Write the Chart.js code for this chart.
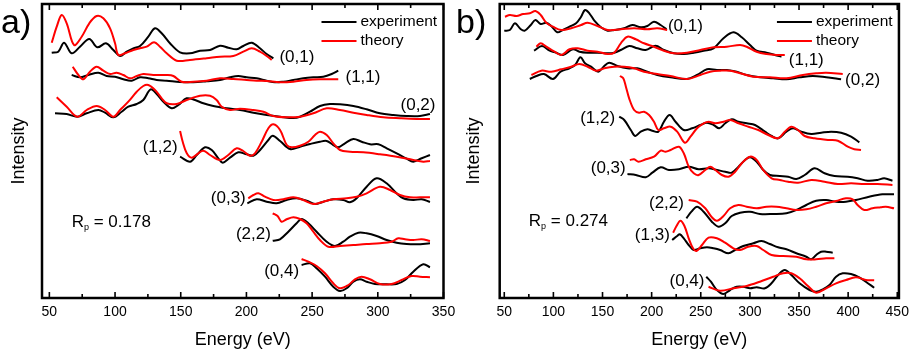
<!DOCTYPE html>
<html>
<head>
<meta charset="utf-8">
<script src="https://cdn.jsdelivr.net/npm/chart.js@4.4.1/dist/chart.umd.min.js"></script>
<style>
  html, body { margin: 0; padding: 0; background: #fff; }
  #wrap { position: relative; width: 915px; height: 352px; overflow: hidden; }
  #chartA { position: absolute; left: 0; top: 0; }
  #chartB { position: absolute; left: 455px; top: 0; }
</style>
</head>
<body>
<div id="wrap">
  <canvas id="chartA" width="480" height="352"></canvas>
  <canvas id="chartB" width="460" height="352"></canvas>
</div>
<script>
// tick labels
const energyTicksA = [50, 100, 150, 200, 250, 300, 350];
const energyTicksB = [50, 100, 150, 200, 250, 300, 350, 400, 450];

// panel a) curves, [energy eV, intensity (offset, arb. units)]
const a01Exp = [[51.8,245.3],[56.8,246.3],[61.2,255.3],[67,244.7],[73.3,251.3],[80.4,259],[86.5,250.7],[93.1,254.7],[98.7,248],[103.8,242],[108.9,246.3],[113.9,249.7],[119,252],[125.3,261.3],[130.4,269.7],[135.5,264.7],[141.8,254.7],[149.4,245.7],[157,244.7],[164.7,247.3],[172.3,248],[179.9,252.3],[186.2,250.3],[192.6,248.7],[197.6,252],[204,255.3],[210.3,249.7],[215.4,244],[220.5,239.7]];
const a01Th = [[51.8,255.3],[55.6,271.3],[59.4,283],[63.2,274.7],[68.8,253],[74.6,261.3],[80.4,274.7],[86,282],[91.1,279.7],[96.2,269.7],[100,254.7],[102.5,243],[107.6,244.7],[113.9,248],[119,249.7],[124.1,251.3],[129.7,255.7],[134.2,251.3],[139.3,244.7],[146.9,237.3],[157,238],[169.7,239.7],[179.9,241.3],[190,242],[197.6,246.3],[204,249.7],[210.3,246.3],[215.4,242],[219.2,238]];
const a11Exp = [[67,223],[73.3,220.7],[79.7,223],[87.3,225.3],[93.6,222],[100,221.3],[106.3,218.7],[112.7,217.3],[119,220.7],[125.3,219.7],[131.7,218],[139.3,217.3],[149.4,216],[159.6,215.7],[169.7,216.7],[179.9,218],[187.5,220.7],[193.8,222],[200.2,220.7],[207.8,219.7],[215.4,217.3],[221.7,215.7],[228.1,216.3],[235.7,218],[243.3,219.7],[250.9,220.7],[258.5,221.3],[264.9,224],[269.9,227.3]];
const a11Th = [[67.8,231.3],[72.1,223],[75.9,218.7],[80.9,226.3],[86,231.3],[91.1,227.3],[96.2,224],[101.2,225.3],[106.3,223],[111.4,219.7],[116.5,222],[121.5,224],[129.1,223],[139.3,223],[144.4,222],[150.7,216.3],[159.6,216.3],[169.7,217.3],[179.9,219.7],[190,219],[200.2,218],[207.8,217.3],[215.4,217],[225.5,215.7],[235.7,216.3],[245.8,218],[256,218.7],[269.9,218.7]];
const a02Exp = [[54.3,184.7],[63.2,184],[71.3,181.3],[78.4,184.7],[87.3,188],[92.4,185.3],[98.7,180.7],[105,186.3],[110.1,191.3],[116.5,194],[121.5,198],[127.1,208.7],[131.7,204],[136.8,196.3],[143.1,189.7],[148.2,193],[154.5,199.7],[160.9,198],[167.2,194.7],[174.8,192],[185,189.7],[195.1,188],[205.3,185.3],[215.4,183],[225.5,181.3],[235.7,180],[240.8,181.3],[248.4,186.3],[256,192],[263.6,194],[271.2,193.7],[281.4,192],[291.5,188.7],[301.6,184.7],[311.8,183],[321.9,182],[332.1,182],[339.7,184]];
const a02Th = [[55.6,200.7],[63.2,191.3],[71.3,181.3],[78.4,188],[86,192],[92.4,188],[98.7,181.3],[103.8,188],[110.1,196.3],[116.5,206.3],[121.5,212],[125.3,213],[130.4,208],[135.5,199.7],[139.3,194.7],[146.9,194],[154.5,198],[164.7,202.3],[172.3,202.3],[177.3,198],[181.2,191.3],[187.5,188],[195.1,189.3],[205.3,188],[212.9,186.3],[220.5,182],[230.6,180.7],[240.8,181.3],[250.9,184.7],[261.1,189.7],[271.2,188],[281.4,185.3],[291.5,183],[304.2,180.7],[316.9,179.7],[329.6,179],[339.7,179]];
const a12Exp = [[149.5,141.3],[157.1,136.3],[162.2,143],[168.5,150.7],[173.6,148],[178.6,139.7],[182,135.3],[187.5,140.3],[193.8,145.7],[200.2,143.7],[205.3,142.3],[210.4,148],[216.7,158],[220,162.3],[225.6,157],[233.2,149],[240.8,151.3],[248.4,154],[256,156.3],[261.1,157],[266.1,153],[269.9,150.7],[275,154.7],[281.4,159],[287.7,156.3],[294.1,153.7],[300.4,153.7],[306.8,149.7],[314.4,144.7],[322,139.3],[327,136.3],[333.4,139.7],[339.7,143]];
const a12Th = [[149.5,167],[151.5,156.3],[154.6,144.7],[158.4,140.3],[163.4,144.7],[167.2,147.3],[172.3,143],[179.9,138],[186.2,143],[192.6,149.7],[197.6,147],[202.7,142.3],[206.5,144.7],[211.6,156.3],[216.7,169.7],[220.5,173.7],[225.6,168],[230.7,153],[234.5,150.7],[240.8,152.3],[247.1,156.3],[252.2,163],[256,166.3],[261.1,163],[266.1,154.7],[271.2,148],[278.8,146.3],[289,145.7],[301.7,143.7],[314.4,141.3],[327,138],[334.6,136.3],[339.7,137]];
const a03Exp = [[200.7,94.7],[207.8,98.7],[215.4,96.3],[223,94.7],[230.6,98],[238.2,99.7],[245.8,97.3],[252.2,94],[258.5,96.3],[266.1,98.7],[273.7,98],[278.8,95.7],[283.9,99.7],[291.5,111.3],[299.1,119.7],[306.7,114.7],[314.3,104.7],[319.4,99.7],[327,98],[333.4,98.7],[339.7,96]];
const a03Th = [[201.4,99.7],[205.3,103],[209.1,104.7],[214.1,101.3],[220.5,98],[228.1,98.7],[235.7,100.7],[243.3,98],[250.9,94],[258.5,96.3],[266.1,98.7],[276.3,99.7],[283.9,101.3],[291.5,104.7],[301.6,111.3],[309.3,108],[316.9,103],[324.5,100.7],[332.1,100.7],[339.7,100.7]];
const a22Exp = [[220,57.3],[225.5,58.7],[231.9,66.3],[238.2,74.7],[242,79],[247.1,74.7],[253.4,66.3],[261.1,56.3],[267.4,52],[273.7,56.3],[278.8,61.3],[285.2,65.3],[291.5,64.7],[299.1,62],[306.7,58],[314.3,55.3],[321.9,54],[329.6,53.7],[339.7,54.7]];
const a22Th = [[220,84.7],[223.7,82],[226.8,76.3],[230.6,78.7],[235.7,80.7],[240.8,79],[245.8,74.7],[250.9,66.3],[256,58],[262.3,51.3],[271.2,52],[281.4,53],[291.5,54],[301.6,54.7],[310.5,56.3],[315.6,59.7],[320.7,58.7],[327,58],[333.4,58.7],[339.7,57]];
const a04Exp = [[242,33],[248.4,34.7],[253.4,29.7],[259.8,21.3],[266.1,11.3],[271.2,7],[276.3,9.7],[281.4,16.3],[286.4,18.7],[291.5,16.3],[297.8,14],[306.7,13.7],[314.3,14],[320.7,18],[327,26.3],[334.6,33.7],[339.7,30.7]];
const a04Th = [[242,39],[247.1,36.3],[253.4,32],[259.8,24.7],[266.1,14.7],[271.2,9.7],[277.6,13],[282.6,18.7],[287.7,21.3],[294,18.7],[301.6,14],[310.5,14],[318.1,18],[325.7,22],[332.1,21.3],[339.7,20.7]];

// panel b) curves
const b01Exp = [[50,267.3],[55.7,268],[60.8,274.7],[66.9,268.7],[70.9,267.3],[77,273],[81.7,278],[87.1,274],[92.8,275.3],[98.5,271.3],[103.9,265.7],[109.7,268],[116.4,271.3],[123.1,274.7],[128.2,281.3],[132.2,288],[136.6,284.7],[141.7,277.3],[148.4,270.7],[155.2,267.3],[161.9,268],[172,269.7],[180.4,273],[188.9,270.7],[195.6,272],[202.3,276.3],[209.1,273],[215.1,268.7]];
const b01Th = [[50.7,281.3],[55.7,283],[62.5,282],[69.2,284],[76,284.7],[81.7,287],[87.1,283],[92.8,275.3],[99.5,271.3],[108,268],[118.1,269.7],[128.2,273],[134.9,275.3],[145,272],[155.2,268],[168.6,268.7],[182.1,269.7],[195.6,268.7],[205.7,269.7],[215.8,268]];
const b11Exp = [[80.3,247.3],[88.4,252],[96.2,247.3],[102.9,245.3],[109.7,243],[119.8,248.7],[126.5,246.3],[134.9,245.3],[145,245.3],[155.2,244.7],[161.9,245.3],[168.6,248],[177.1,252],[185.5,249.7],[193.9,248],[204,252.3],[212.5,248],[222.6,244.7],[232.7,244],[242.8,245.3],[252.9,247.3],[263,249.7],[273.1,259.7],[283.2,265.7],[291.7,260.7],[300.1,253],[306.8,247.3],[316.9,245.3],[325.4,243],[332.1,241.3]];
const b11Th = [[82.7,251.3],[87.1,254.7],[92.8,251.3],[101.2,246.3],[108,243],[116.4,248.7],[124.8,249.7],[134.9,247.3],[145,246.3],[155.2,244],[161.9,245.3],[168.6,254.7],[175.4,261.3],[183.8,258.7],[192.2,254.7],[202.3,251.3],[212.5,247.3],[222.6,244.7],[236,245.3],[249.5,248],[263,250.7],[276.5,251.3],[290,253],[296.7,251.3],[306.8,246.3],[316.9,244],[327,243],[335.5,243]];
const b02Exp = [[76,219],[82.7,222],[90.4,224],[99.5,219],[107.3,226.3],[116.4,229.7],[122.1,233],[127.5,240.7],[132.2,234.7],[138.3,231.3],[145.7,226.3],[151.1,231.3],[156.8,235.3],[165.3,232],[175.4,229.7],[185.5,229.7],[195.6,226.3],[205.7,223],[219.2,220.7],[236,219],[246.2,223],[256.3,228.7],[266.4,228],[276.5,228],[286.6,226.3],[296.7,223],[310.2,220.7],[323.7,219.7],[337.2,218.7],[350.6,220.7],[364.1,222],[377.6,220.7],[392.8,218.7]];
const b02Th = [[77.6,223],[87.7,227.3],[97.9,226.3],[108,228.7],[118.1,231.3],[126.5,234],[134.9,231.3],[143.4,227.3],[151.8,229.7],[161.9,231.3],[172,231.3],[182.1,229.7],[192.2,226.3],[205.7,224],[219.2,222],[236,219],[249.5,223],[259.6,226.3],[269.7,227.3],[279.9,227.3],[290,224.7],[303.5,221.3],[320.3,220.7],[337.2,219.7],[354,223],[367.5,224.7],[377.6,225.3],[394.5,224]];
const b12Exp = [[167,181.3],[172.1,178],[178.8,168],[183.2,162],[188.9,166.3],[195.7,168.7],[200.7,167.3],[206.8,166.3],[212.5,176.3],[218.3,183],[224.3,176.3],[232.7,168],[241.2,169.7],[249.6,173],[256.3,175.3],[263.1,173],[268.8,169.7],[274.9,174.7],[281.6,178.7],[288.4,176.3],[296.8,174.7],[305.2,173],[315.3,166.3],[322.1,162],[328.8,159.7],[337.2,166.3],[344,169.7],[352.4,166.3],[362.5,164],[372.6,165.3],[382.7,166.3],[392.8,165.3],[403,161.3],[411.4,155.7]];
const b12Th = [[167.7,222],[171.1,219.7],[173.8,211.3],[177.1,199.7],[182.2,188],[187.2,185.3],[192.3,186.3],[197.4,183],[202.4,176.3],[206.8,168],[212.5,169.7],[219.3,171.3],[226,166.3],[233.8,155.3],[239.5,161.3],[246.2,169.7],[253,174.7],[258,176.3],[264.8,174.7],[273.2,176.3],[279.9,178],[288.4,174.7],[298.5,171.3],[308.6,168],[318.7,163],[328.8,159.7],[335.5,166.3],[342.3,171.3],[349,168],[355.8,162],[365.9,159.7],[379.4,158],[389.5,157.3],[399.6,151.3],[406.3,148.7],[413.1,148]];
const b03Exp = [[175.4,124],[183.9,123],[194,120.7],[200.7,125.3],[209.2,130.7],[217.6,128],[227.7,128.7],[237.8,131.3],[247.9,128.7],[258,129.7],[266.5,128],[274.9,126.3],[281.6,125.3],[288.4,131.3],[295.1,138],[300.2,140.7],[306.9,136.3],[313.6,128],[320.4,123],[330.5,122],[338.9,121.3],[347.3,119],[355.8,123],[365.9,129.7],[376,124.7],[386.1,122],[399.6,121.3],[409.7,119.7],[419.8,117.3],[429.9,118],[436.7,119.7],[445.1,117.3]];
const b03Th = [[177.8,138],[182.2,138.7],[186.6,136.3],[194,138.7],[202.4,141.3],[209.2,147.3],[214.2,146.3],[219.3,148],[227.7,151.3],[232.7,144.7],[237.8,131.3],[242.9,124.7],[247.9,123],[254.6,128],[259.7,131.3],[264.8,128],[271.5,123],[278.2,121.3],[285,126.3],[291.7,134.7],[300.2,141.3],[306.9,138],[313.6,128],[322.1,119.7],[330.5,118],[338.9,116.3],[349,115.3],[362.5,118],[376,116.3],[389.5,114],[403,114.7],[416.4,114],[429.9,114],[445.1,113]];
const b22Exp = [[235.4,79.7],[240.5,86.3],[246.2,91.3],[252.9,86.3],[261.3,76.3],[268.1,71.3],[274.8,74.7],[281.5,82],[290,85.3],[300.1,86.3],[310.2,84],[323.7,84],[337.2,84.7],[347.3,88],[357.4,93],[367.5,97.3],[377.6,98],[387.7,96.3],[397.8,96.3],[407.9,98],[421.4,101.3],[434.9,103.7],[446.7,103.7]];
const b22Th = [[237.7,98],[246.2,96.3],[254.6,89.7],[261.3,80.7],[266.4,77.3],[273.1,82],[279.9,89.7],[288.3,93],[296.7,91.3],[306.8,89.7],[316.9,91.3],[327,91.3],[337.2,89.7],[347.3,88],[357.4,88.7],[367.5,91.3],[377.6,94.7],[387.7,97],[397.8,99.7],[404.6,98.7],[409.6,93],[416.4,88],[424.8,89.7],[433.2,90.7],[438.3,91.3],[446.7,89.7]];
const b13Exp = [[220.9,58],[226,62],[228.6,63.7],[232.7,59.7],[237.7,53],[242.8,48],[249.5,49.7],[256.3,50.7],[263,49.7],[269.7,48],[278.2,44.7],[284.9,48],[293.3,52],[303.5,54.7],[311.9,57],[320.3,54],[328.7,50.7],[337.2,48.7],[347.3,44.7],[357.4,41.3],[362.4,38.7],[367.5,43],[372.5,46.3],[377.6,46.3],[384.3,45.3]];
const b13Th = [[221.9,65.3],[225.3,72],[229.3,77.3],[233.4,72],[237.7,59.7],[242.1,49.7],[245.5,47],[251.2,53],[257.9,60.3],[266.4,59.7],[274.8,55.3],[283.2,49.7],[290,48],[298.4,51.3],[306.8,52],[313.6,48],[322,43],[333.8,42],[347.3,41.3],[357.4,38.7],[367.5,38.7],[377.6,39.7],[386,39.7]];
const b04Exp = [[255.6,21.3],[260.3,16.3],[266.4,8],[273.1,4],[279.9,8],[286.6,11.3],[293.3,11.3],[300.1,9.7],[306.8,10.7],[315.3,9.7],[322,14.7],[328.7,23],[335.5,28],[342.2,23],[350.6,14.7],[360.7,8],[367.5,6.3],[374.2,8.7],[381,13],[387.7,21.3],[394.5,24.7],[402.9,24],[411.3,20.7],[418,16.3],[426.5,10.3]];
const b04Th = [[257.9,11.3],[269.7,7.3],[283.2,9.7],[296.7,12],[310.2,16.3],[323.7,21.3],[333.8,24.7],[342.2,24.7],[350.6,19.7],[359.1,12],[367.5,5.3],[377.6,9.7],[387.7,14.7],[397.8,18],[407.9,20.7],[418,18],[426.5,17.7]];

const curveNames = ["(0,1)", "(1,1)", "(0,2)", "(1,2)", "(0,3)", "(2,2)", "(1,3)", "(0,4)"];
const rFactorA = "0.178";
const rFactorB = "0.274";

const EXP_COLOR = "#000000";
const TH_COLOR = "#ff0000";
const FONT = "'Liberation Sans', Arial, sans-serif";

function curve(points, color) {
  return {
    data: points.map(p => ({ x: p[0], y: p[1] })),
    borderColor: color,
    borderWidth: 2,
    pointRadius: 0,
    fill: false,
    tension: 0.35
  };
}

// frame, inward ticks, legend, curve labels, panel letter
const panelDecor = {
  id: "panelDecor",
  afterDraw(chart, args, opts) {
    const ctx = chart.ctx;
    const a = chart.chartArea;
    const xs = chart.scales.x, ys = chart.scales.y;
    ctx.save();
    ctx.strokeStyle = "#000";
    ctx.lineWidth = 1.6;
    for (let v = 50; v <= xs.max + 0.01; v += 25) {
      const px = xs.getPixelForValue(v);
      const len = v % 50 === 0 ? 6 : 4;
      ctx.beginPath();
      ctx.moveTo(px, a.bottom); ctx.lineTo(px, a.bottom - len);
      ctx.moveTo(px, a.top); ctx.lineTo(px, a.top + len);
      ctx.stroke();
    }
    ctx.lineWidth = 2.5;
    ctx.strokeRect(a.left, a.top, a.right - a.left, a.bottom - a.top);

    // legend
    const lx = a.right - 122;
    ctx.lineWidth = 2;
    [[EXP_COLOR, "experiment", 18], [TH_COLOR, "theory", 37]].forEach(([c, t, dy]) => {
      ctx.strokeStyle = c;
      ctx.beginPath();
      ctx.moveTo(lx, a.top + dy); ctx.lineTo(lx + 35, a.top + dy);
      ctx.stroke();
      ctx.fillStyle = "#000";
      ctx.font = "15.5px " + FONT;
      ctx.textAlign = "left";
      ctx.textBaseline = "middle";
      ctx.fillText(t, lx + 39, a.top + dy);
    });

    // curve labels
    ctx.font = "17px " + FONT;
    ctx.textAlign = "center";
    ctx.textBaseline = "middle";
    opts.labels.forEach(([name, e, v]) => {
      ctx.fillText(name, xs.getPixelForValue(e), ys.getPixelForValue(v));
    });

    // R factor
    let rx = xs.getPixelForValue(opts.rPos[0]);
    const ry = ys.getPixelForValue(opts.rPos[1]);
    ctx.textAlign = "left";
    ctx.textBaseline = "alphabetic";
    ctx.font = "17px " + FONT;
    ctx.fillText("R", rx, ry);
    rx += ctx.measureText("R").width;
    ctx.font = "9px " + FONT;
    ctx.fillText("p", rx, ry + 3);
    rx += ctx.measureText("p").width;
    ctx.font = "17px " + FONT;
    ctx.fillText(" = " + opts.rValue, rx, ry);

    // panel letter
    ctx.font = "34px " + FONT;
    ctx.fillText(opts.letter, 1, 33);
    ctx.restore();
  }
};

function makeOptions(xMin, xMax, xTicks, yWidth, padRight, decor) {
  return {
    responsive: false,
    animation: false,
    layout: { padding: { top: 4, right: padRight, left: 0, bottom: 0 } },
    plugins: {
      legend: { display: false },
      tooltip: { enabled: false },
      panelDecor: decor
    },
    scales: {
      x: {
        type: "linear",
        min: xMin,
        max: xMax,
        afterBuildTicks: ax => { ax.ticks = xTicks.map(v => ({ value: v })); },
        afterFit: s => { s.height = 54; },
        grid: { display: false, drawTicks: false },
        border: { display: false },
        ticks: { color: "#000", padding: 6, maxRotation: 0, autoSkip: false, font: { family: FONT, size: 14 } },
        title: { display: true, text: "Energy (eV)", color: "#000", font: { family: FONT, size: 18 }, padding: { top: 0, bottom: 1 } }
      },
      y: {
        min: 0,
        max: 294,
        afterFit: s => { s.width = yWidth; },
        grid: { display: false, drawTicks: false },
        border: { display: false },
        ticks: { display: false },
        title: { display: true, text: "Intensity", color: "#000", font: { family: FONT, size: 18 }, padding: { top: 8, bottom: 0 } }
      }
    }
  };
}

new Chart(document.getElementById("chartA"), {
  type: "line",
  data: {
    datasets: [
      curve(a01Th, TH_COLOR), curve(a01Exp, EXP_COLOR),
      curve(a11Th, TH_COLOR), curve(a11Exp, EXP_COLOR),
      curve(a02Th, TH_COLOR), curve(a02Exp, EXP_COLOR),
      curve(a12Th, TH_COLOR), curve(a12Exp, EXP_COLOR),
      curve(a03Th, TH_COLOR), curve(a03Exp, EXP_COLOR),
      curve(a22Th, TH_COLOR), curve(a22Exp, EXP_COLOR),
      curve(a04Th, TH_COLOR), curve(a04Exp, EXP_COLOR)
    ]
  },
  options: makeOptions(44.4, 350, energyTicksA, 42, 36.5, {
    letter: "a)",
    rValue: rFactorA,
    rPos: [67, 71.3],
    labels: [
      [curveNames[0], 238.4, 241], [curveNames[1], 288.7, 221], [curveNames[2], 330.6, 193],
      [curveNames[3], 134.3, 151], [curveNames[4], 186.2, 99.7], [curveNames[5], 205.3, 63.7],
      [curveNames[7], 226.8, 26.3]
    ]
  }),
  plugins: [panelDecor]
});

new Chart(document.getElementById("chartB"), {
  type: "line",
  data: {
    datasets: [
      curve(b01Th, TH_COLOR), curve(b01Exp, EXP_COLOR),
      curve(b11Th, TH_COLOR), curve(b11Exp, EXP_COLOR),
      curve(b02Th, TH_COLOR), curve(b02Exp, EXP_COLOR),
      curve(b12Th, TH_COLOR), curve(b12Exp, EXP_COLOR),
      curve(b03Th, TH_COLOR), curve(b03Exp, EXP_COLOR),
      curve(b22Th, TH_COLOR), curve(b22Exp, EXP_COLOR),
      curve(b13Th, TH_COLOR), curve(b13Exp, EXP_COLOR),
      curve(b04Th, TH_COLOR), curve(b04Exp, EXP_COLOR)
    ]
  },
  options: makeOptions(45.35, 451.7, energyTicksB, 44.7, 13.3, {
    letter: "b)",
    rValue: rFactorB,
    rPos: [75, 72],
    labels: [
      [curveNames[0], 234.4, 271.3], [curveNames[1], 357.4, 238], [curveNames[2], 414.7, 218],
      [curveNames[3], 145, 179.7], [curveNames[4], 155.8, 129.7], [curveNames[5], 215.1, 94.7],
      [curveNames[6], 200.7, 63], [curveNames[7], 236, 16.3]
    ]
  }),
  plugins: [panelDecor]
});
</script>
</body>
</html>
